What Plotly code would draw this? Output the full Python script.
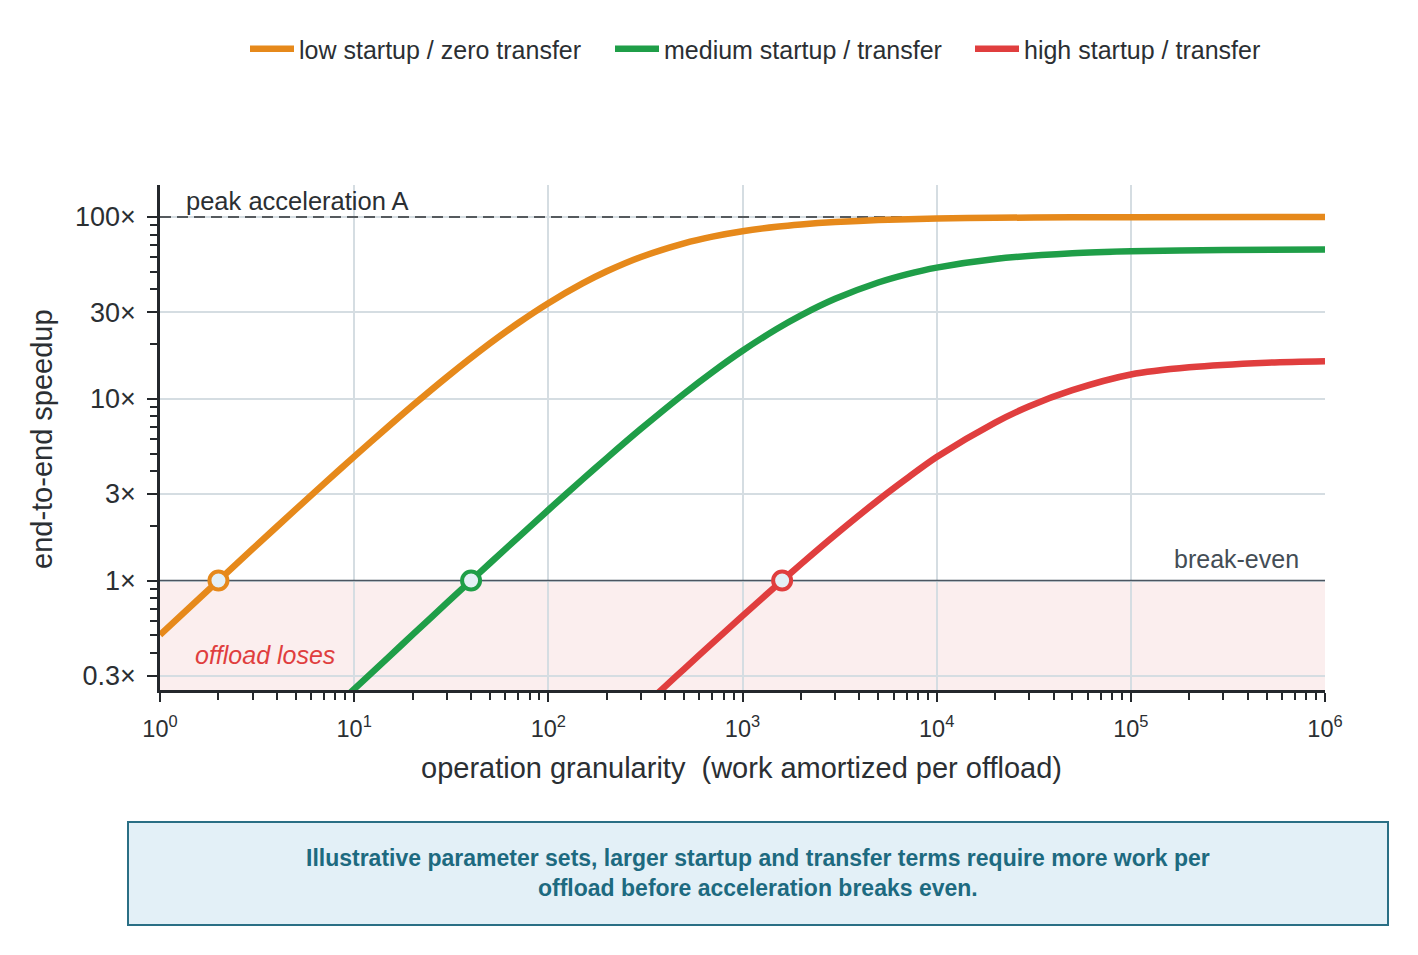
import plotly.graph_objects as go

# ---- data ----
low_x = [1, 1.5, 2, 3, 5, 7, 10, 15, 20, 30, 50, 70, 100, 150, 200, 300, 500, 700,
         1000, 1500, 2000, 3000, 5000, 1e4, 2e4, 5e4, 1e5, 1e6]
low_y = [0.503, 0.752, 1.0, 1.493, 2.463, 3.415, 4.808, 7.042, 9.174, 13.16, 20.16, 26.12,
         33.56, 43.10, 50.25, 60.24, 71.63, 77.95, 83.47, 88.34, 90.99, 93.81, 96.19,
         98.06, 99.02, 99.60, 99.80, 99.98]

med_x = [9, 10, 15, 20, 30, 40, 50, 70, 100, 150, 200, 300, 500, 700, 1000, 1500, 2000,
         3000, 5000, 7000, 1e4, 2e4, 5e4, 1e5, 3e5, 1e6]
med_y = [0.2276, 0.2528, 0.3785, 0.5037, 0.7528, 1.0, 1.245, 1.730, 2.445, 3.601, 4.716,
         6.832, 10.66, 14.02, 18.37, 24.21, 28.79, 35.49, 43.63, 48.38, 52.69, 58.79,
         63.18, 64.79, 65.92, 66.32]

high_x = [350, 400, 500, 700, 1000, 1600, 2000, 3000, 5000, 7000, 1e4, 2e4, 3e4, 5e4,
          1e5, 2e5, 5e5, 1e6]
high_y = [0.2296, 0.2618, 0.326, 0.4529, 0.6395, 1.0, 1.2315, 1.781, 2.771, 3.636, 4.78,
          7.40, 9.10, 11.15, 13.6, 14.9, 15.8, 16.1]

series_names = ["low startup / zero transfer", "medium startup / transfer", "high startup / transfer"]
breakeven_x = [2, 40, 1600]
breakeven_y = [1, 1, 1]
peak_A = 100
breakeven_level = 1
x_limits = [1, 1e6]

x_tickvals = [1, 10, 100, 1000, 1e4, 1e5, 1e6]
x_ticktext = ["10<sup>0</sup>", "10<sup>1</sup>", "10<sup>2</sup>", "10<sup>3</sup>",
              "10<sup>4</sup>", "10<sup>5</sup>", "10<sup>6</sup>"]
y_tickvals = [0.3, 1, 3, 10, 30, 100]
y_ticktext = ["0.3×", "1×", "3×", "10×", "30×", "100×"]

colors = ["#e6891b", "#1f9e48", "#e03e3e"]
legend_widths = [306, 301, 250]
TEXT = "#2b2f33"
GRID = "#d5dde2"
AXIS = "#24282c"

x_minor = [m * 10 ** d for d in range(0, 6) for m in range(2, 10)]
y_minor = [m * 10 ** d for d in range(-1, 3) for m in range(2, 10)
           if 0.25 <= m * 10 ** d <= 150]

fig = go.Figure()

# reference lines (drawn first so curves sit on top)
fig.add_trace(go.Scatter(x=x_limits, y=[breakeven_level] * 2, mode="lines", showlegend=False,
                         hoverinfo="skip", line=dict(color="#4a5560", width=1.6)))
fig.add_trace(go.Scatter(x=x_limits, y=[peak_A] * 2, mode="lines", showlegend=False,
                         hoverinfo="skip",
                         line=dict(color="#2b2f33", width=1.3, dash="11px,6px")))

for xs, ys, name, c, lw in zip([low_x, med_x, high_x], [low_y, med_y, high_y],
                               series_names, colors, legend_widths):
    fig.add_trace(go.Scatter(x=xs, y=ys, mode="lines", name=name, legendwidth=lw,
                             line=dict(color=c, width=6.5, shape="spline", smoothing=0.8)))

for bx, by, c in zip(breakeven_x, breakeven_y, colors):
    fig.add_trace(go.Scatter(x=[bx], y=[by], mode="markers", showlegend=False,
                             marker=dict(size=18, color="#e4f0f6",
                                         line=dict(color=c, width=4)),
                             cliponaxis=False))

# shaded "offload loses" region
fig.add_shape(type="rect", xref="x domain", yref="y", x0=0, x1=1, y0=0.25, y1=breakeven_level,
              fillcolor="#fbeeee", line=dict(width=0), layer="below")

fig.add_annotation(xref="paper", yref="y", x=0.021, y=2.0 + 0.09, text="peak acceleration A",
                   showarrow=False, xanchor="left", yanchor="middle",
                   font=dict(size=25.5, color=TEXT))
fig.add_annotation(xref="paper", yref="y", x=0.979, y=0.12, text="break-even",
                   showarrow=False, xanchor="right", yanchor="middle",
                   font=dict(size=25, color="#444d55"))
fig.add_annotation(xref="paper", yref="y", x=0.0905, y=-0.41, text="<i>offload loses</i>",
                   showarrow=False, xanchor="center", yanchor="middle",
                   font=dict(size=25, color="#e03e3e"))

# axis titles
fig.add_annotation(xref="paper", yref="paper", x=(741 - 160) / 1165, y=(690 - 768) / 505,
                   text="operation granularity \u00a0(work amortized per offload)",
                   showarrow=False, xanchor="center", yanchor="middle",
                   font=dict(size=29, color=TEXT))
fig.add_annotation(xref="paper", yref="paper", x=(42 - 160) / 1165, y=(690 - 439) / 505,
                   text="end-to-end speedup", textangle=-90,
                   showarrow=False, xanchor="center", yanchor="middle",
                   font=dict(size=29, color=TEXT))

# bottom note box
fig.add_shape(type="rect", xref="paper", yref="paper",
              x0=(128 - 160) / 1165, x1=(1388 - 160) / 1165,
              y0=(690 - 925) / 505, y1=(690 - 822) / 505,
              fillcolor="#e3f0f7", line=dict(color="#2a6f85", width=2), layer="above")
fig.add_annotation(xref="paper", yref="paper", x=(758 - 160) / 1165, y=(690 - 873) / 505,
                   text="<b>Illustrative parameter sets, larger startup and transfer terms require more work per<br>offload before acceleration breaks even.</b>",
                   showarrow=False, xanchor="center", yanchor="middle", align="center",
                   font=dict(size=23, color="#1d6a80"))

fig.update_xaxes(type="log", range=[0, 6], tickvals=x_tickvals, ticktext=x_ticktext,
                 ticks="outside", ticklen=9, tickwidth=2, tickcolor=AXIS,
                 showline=True, linecolor=AXIS, linewidth=2.5,
                 showgrid=True, gridcolor=GRID, gridwidth=1.5, zeroline=False,
                 tickfont=dict(size=23.5, color=TEXT), ticklabelstandoff=7,
                 minor=dict(tickvals=x_minor, ticks="outside", ticklen=7, tickwidth=1.6,
                            tickcolor=AXIS, showgrid=False))
fig.update_yaxes(type="log", range=[-0.602, 2.176], tickvals=y_tickvals, ticktext=y_ticktext,
                 ticks="outside", ticklen=10, tickwidth=2, tickcolor=AXIS,
                 showline=True, linecolor=AXIS, linewidth=2.5,
                 showgrid=True, gridcolor=GRID, gridwidth=1.5, zeroline=False,
                 tickfont=dict(size=27, color=TEXT), ticklabelstandoff=6,
                 minor=dict(tickvals=y_minor, ticks="outside", ticklen=7, tickwidth=1.6,
                            tickcolor=AXIS, showgrid=False))

fig.update_layout(
    width=1402, height=939,
    margin=dict(l=152, r=85, t=177, b=257),
    paper_bgcolor="white", plot_bgcolor="white",
    font=dict(family="Liberation Sans, Arial, sans-serif", color=TEXT),
    legend=dict(orientation="h", x=(245 - 160) / 1165, xanchor="left",
                y=(690 - 49) / 505, yanchor="middle",
                font=dict(size=25, color=TEXT), itemwidth=44,
                bgcolor="rgba(0,0,0,0)"),
)

fig.write_html("out.html")
